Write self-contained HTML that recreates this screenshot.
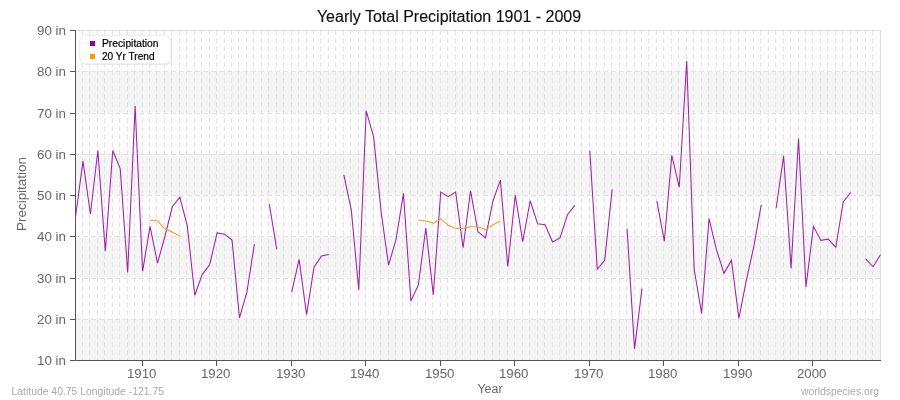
<!DOCTYPE html>
<html><head><meta charset="utf-8"><title>Yearly Total Precipitation</title>
<style>html,body{margin:0;padding:0;background:#fff;width:900px;height:400px;overflow:hidden;font-family:"Liberation Sans",sans-serif;}svg{display:block;will-change:transform}</style>
</head><body>
<svg width="900" height="400" viewBox="0 0 900 400">
<rect x="75" y="30.00" width="805" height="41.25" fill="#fcfcfc"/>
<rect x="75" y="71.25" width="805" height="41.25" fill="#f5f5f5"/>
<rect x="75" y="112.50" width="805" height="41.25" fill="#fcfcfc"/>
<rect x="75" y="153.75" width="805" height="41.25" fill="#f5f5f5"/>
<rect x="75" y="195.00" width="805" height="41.25" fill="#fcfcfc"/>
<rect x="75" y="236.25" width="805" height="41.25" fill="#f5f5f5"/>
<rect x="75" y="277.50" width="805" height="41.25" fill="#fcfcfc"/>
<rect x="75" y="318.75" width="805" height="41.25" fill="#f5f5f5"/>
<path d="M82.5 30 V360 M89.5 30 V360 M97.5 30 V360 M104.5 30 V360 M112.5 30 V360 M119.5 30 V360 M127.5 30 V360 M134.5 30 V360 M142.5 30 V360 M149.5 30 V360 M156.5 30 V360 M164.5 30 V360 M171.5 30 V360 M179.5 30 V360 M186.5 30 V360 M194.5 30 V360 M201.5 30 V360 M209.5 30 V360 M216.5 30 V360 M224.5 30 V360 M231.5 30 V360 M238.5 30 V360 M246.5 30 V360 M253.5 30 V360 M261.5 30 V360 M268.5 30 V360 M276.5 30 V360 M283.5 30 V360 M291.5 30 V360 M298.5 30 V360 M306.5 30 V360 M313.5 30 V360 M320.5 30 V360 M328.5 30 V360 M335.5 30 V360 M343.5 30 V360 M350.5 30 V360 M358.5 30 V360 M365.5 30 V360 M373.5 30 V360 M380.5 30 V360 M388.5 30 V360 M395.5 30 V360 M402.5 30 V360 M410.5 30 V360 M417.5 30 V360 M425.5 30 V360 M432.5 30 V360 M440.5 30 V360 M447.5 30 V360 M455.5 30 V360 M462.5 30 V360 M470.5 30 V360 M477.5 30 V360 M484.5 30 V360 M492.5 30 V360 M499.5 30 V360 M507.5 30 V360 M514.5 30 V360 M522.5 30 V360 M529.5 30 V360 M537.5 30 V360 M544.5 30 V360 M552.5 30 V360 M559.5 30 V360 M566.5 30 V360 M574.5 30 V360 M581.5 30 V360 M589.5 30 V360 M596.5 30 V360 M604.5 30 V360 M611.5 30 V360 M619.5 30 V360 M626.5 30 V360 M634.5 30 V360 M641.5 30 V360 M648.5 30 V360 M656.5 30 V360 M663.5 30 V360 M671.5 30 V360 M678.5 30 V360 M686.5 30 V360 M693.5 30 V360 M701.5 30 V360 M708.5 30 V360 M716.5 30 V360 M723.5 30 V360 M730.5 30 V360 M738.5 30 V360 M745.5 30 V360 M753.5 30 V360 M760.5 30 V360 M768.5 30 V360 M775.5 30 V360 M783.5 30 V360 M790.5 30 V360 M798.5 30 V360 M805.5 30 V360 M812.5 30 V360 M820.5 30 V360 M827.5 30 V360 M835.5 30 V360 M842.5 30 V360 M850.5 30 V360 M857.5 30 V360 M865.5 30 V360 M872.5 30 V360 M880.5 30 V360" stroke="#e3e3e3" stroke-width="1" stroke-dasharray="5 3" fill="none"/>
<path d="M75 319.5 H880 M75 278.5 H880 M75 236.5 H880 M75 195.5 H880 M75 154.5 H880 M75 113.5 H880 M75 71.5 H880" stroke="#e2e2e2" stroke-width="1" stroke-dasharray="5 3" fill="none"/>
<path d="M75 30.5 H880.5 V360" stroke="#dddddd" stroke-width="1" fill="none"/>
<path d="M75.5 30 V360.5 H881" stroke="#555" stroke-width="1" fill="none"/>
<path d="M70 360.5 H75" stroke="#555" stroke-width="1"/>
<text x="66" y="365.0" text-anchor="end" font-size="12" fill="#666" textLength="29" lengthAdjust="spacingAndGlyphs" font-family="Liberation Sans, sans-serif">10 in</text>
<path d="M70 319.5 H75" stroke="#555" stroke-width="1"/>
<text x="66" y="324.0" text-anchor="end" font-size="12" fill="#666" textLength="29" lengthAdjust="spacingAndGlyphs" font-family="Liberation Sans, sans-serif">20 in</text>
<path d="M70 278.5 H75" stroke="#555" stroke-width="1"/>
<text x="66" y="283.0" text-anchor="end" font-size="12" fill="#666" textLength="29" lengthAdjust="spacingAndGlyphs" font-family="Liberation Sans, sans-serif">30 in</text>
<path d="M70 236.5 H75" stroke="#555" stroke-width="1"/>
<text x="66" y="241.0" text-anchor="end" font-size="12" fill="#666" textLength="29" lengthAdjust="spacingAndGlyphs" font-family="Liberation Sans, sans-serif">40 in</text>
<path d="M70 195.5 H75" stroke="#555" stroke-width="1"/>
<text x="66" y="200.0" text-anchor="end" font-size="12" fill="#666" textLength="29" lengthAdjust="spacingAndGlyphs" font-family="Liberation Sans, sans-serif">50 in</text>
<path d="M70 154.5 H75" stroke="#555" stroke-width="1"/>
<text x="66" y="159.0" text-anchor="end" font-size="12" fill="#666" textLength="29" lengthAdjust="spacingAndGlyphs" font-family="Liberation Sans, sans-serif">60 in</text>
<path d="M70 113.5 H75" stroke="#555" stroke-width="1"/>
<text x="66" y="118.0" text-anchor="end" font-size="12" fill="#666" textLength="29" lengthAdjust="spacingAndGlyphs" font-family="Liberation Sans, sans-serif">70 in</text>
<path d="M70 71.5 H75" stroke="#555" stroke-width="1"/>
<text x="66" y="76.0" text-anchor="end" font-size="12" fill="#666" textLength="29" lengthAdjust="spacingAndGlyphs" font-family="Liberation Sans, sans-serif">80 in</text>
<path d="M70 30.5 H75" stroke="#555" stroke-width="1"/>
<text x="66" y="35.0" text-anchor="end" font-size="12" fill="#666" textLength="29" lengthAdjust="spacingAndGlyphs" font-family="Liberation Sans, sans-serif">90 in</text>
<path d="M142.5 360 V366" stroke="#555" stroke-width="1"/>
<text x="141.7" y="378" text-anchor="middle" font-size="12" fill="#666" textLength="29.5" lengthAdjust="spacingAndGlyphs" font-family="Liberation Sans, sans-serif">1910</text>
<path d="M216.5 360 V366" stroke="#555" stroke-width="1"/>
<text x="215.7" y="378" text-anchor="middle" font-size="12" fill="#666" textLength="29.5" lengthAdjust="spacingAndGlyphs" font-family="Liberation Sans, sans-serif">1920</text>
<path d="M291.5 360 V366" stroke="#555" stroke-width="1"/>
<text x="290.7" y="378" text-anchor="middle" font-size="12" fill="#666" textLength="29.5" lengthAdjust="spacingAndGlyphs" font-family="Liberation Sans, sans-serif">1930</text>
<path d="M365.5 360 V366" stroke="#555" stroke-width="1"/>
<text x="364.7" y="378" text-anchor="middle" font-size="12" fill="#666" textLength="29.5" lengthAdjust="spacingAndGlyphs" font-family="Liberation Sans, sans-serif">1940</text>
<path d="M440.5 360 V366" stroke="#555" stroke-width="1"/>
<text x="439.7" y="378" text-anchor="middle" font-size="12" fill="#666" textLength="29.5" lengthAdjust="spacingAndGlyphs" font-family="Liberation Sans, sans-serif">1950</text>
<path d="M514.5 360 V366" stroke="#555" stroke-width="1"/>
<text x="513.7" y="378" text-anchor="middle" font-size="12" fill="#666" textLength="29.5" lengthAdjust="spacingAndGlyphs" font-family="Liberation Sans, sans-serif">1960</text>
<path d="M589.5 360 V366" stroke="#555" stroke-width="1"/>
<text x="588.7" y="378" text-anchor="middle" font-size="12" fill="#666" textLength="29.5" lengthAdjust="spacingAndGlyphs" font-family="Liberation Sans, sans-serif">1970</text>
<path d="M663.5 360 V366" stroke="#555" stroke-width="1"/>
<text x="662.7" y="378" text-anchor="middle" font-size="12" fill="#666" textLength="29.5" lengthAdjust="spacingAndGlyphs" font-family="Liberation Sans, sans-serif">1980</text>
<path d="M738.5 360 V366" stroke="#555" stroke-width="1"/>
<text x="737.7" y="378" text-anchor="middle" font-size="12" fill="#666" textLength="29.5" lengthAdjust="spacingAndGlyphs" font-family="Liberation Sans, sans-serif">1990</text>
<path d="M812.5 360 V366" stroke="#555" stroke-width="1"/>
<text x="811.7" y="378" text-anchor="middle" font-size="12" fill="#666" textLength="29.5" lengthAdjust="spacingAndGlyphs" font-family="Liberation Sans, sans-serif">2000</text>
<path d="M75.50 217.28 L82.95 161.17 L90.41 213.97 L97.86 150.45 L105.31 251.10 L112.77 150.45 L120.22 168.60 L127.68 272.55 L135.13 105.90 L142.58 271.31 L150.04 226.35 L157.49 263.06 L164.94 236.25 L172.40 206.55 L179.85 197.06 L187.31 225.94 L194.76 295.24 L202.21 274.61 L209.67 264.71 L217.12 232.95 L224.57 234.19 L232.03 239.96 L239.48 317.93 L246.94 291.94 L254.39 244.09 M269.30 204.08 L276.75 249.04 M291.66 292.35 L299.11 259.35 L306.56 314.62 L314.02 267.19 L321.47 256.05 L328.93 254.40 M343.83 174.79 L351.29 209.85 L358.74 289.88 L366.19 110.85 L373.65 136.84 L381.10 211.91 L388.56 265.12 L396.01 239.55 L403.46 193.35 L410.92 301.01 L418.37 284.93 L425.82 228.00 L433.28 294.82 L440.73 192.11 L448.19 196.65 L455.64 192.11 L463.09 247.80 L470.55 190.88 L478.00 231.71 L485.45 237.90 L492.91 201.19 L500.36 180.15 L507.81 266.36 L515.27 195.00 L522.72 241.61 L530.18 200.78 L537.63 223.88 L545.08 224.70 L552.54 242.03 L559.99 237.90 L567.44 214.80 L574.90 205.31 M589.81 150.86 L597.26 269.25 L604.71 260.17 L612.17 189.22 M627.07 228.83 L634.53 348.86 L641.98 288.64 M656.89 201.19 L664.34 241.20 L671.80 155.40 L679.25 187.16 L686.70 60.94 L694.16 269.25 L701.61 313.39 L709.06 218.51 L716.52 249.86 L723.97 273.38 L731.43 260.17 L738.88 318.34 L746.33 280.39 L753.79 246.56 L761.24 204.90 M776.15 208.20 L783.60 155.81 L791.06 268.42 L798.51 138.49 L805.96 286.99 L813.42 226.35 L820.87 240.38 L828.32 239.14 L835.78 247.39 L843.23 202.01 L850.69 192.53 M865.59 258.94 L873.05 266.77 L880.50 254.81" stroke="#a020aa" stroke-width="1.05" fill="none" stroke-linejoin="miter"/>
<path d="M150.04 220.16 L157.49 220.78 L164.94 228.83 L172.40 232.12 L179.85 236.25 M418.37 220.16 L425.82 220.99 L433.28 223.05 L440.73 218.92 L448.19 225.32 L455.64 228.41 L463.09 228.41 L470.55 226.76 L478.00 226.76 L485.45 229.65 L492.91 224.70 L500.36 220.99" stroke="#f8a02a" stroke-width="1.15" fill="none"/>
<rect x="80.5" y="36.5" width="91" height="28" rx="6" fill="none" stroke="#e2e2e2" stroke-width="1" opacity="0.8"/>
<rect x="79.5" y="35.5" width="91" height="28" rx="6" fill="#fff" stroke="#efefef" stroke-width="1"/>
<rect x="90" y="41" width="5" height="5" fill="#990099"/>
<rect x="90" y="54" width="5" height="5" fill="#ff9900"/>
<text x="102" y="46.9" font-size="10" fill="#000" stroke="#000" stroke-width="0.2" textLength="56.5" lengthAdjust="spacingAndGlyphs" font-family="Liberation Sans, sans-serif">Precipitation</text>
<text x="102" y="59.9" font-size="10" fill="#000" stroke="#000" stroke-width="0.2" textLength="52.5" lengthAdjust="spacingAndGlyphs" font-family="Liberation Sans, sans-serif">20 Yr Trend</text>
<text x="449" y="21.7" text-anchor="middle" font-size="16" fill="#111" stroke="#111" stroke-width="0.15" font-family="Liberation Sans, sans-serif">Yearly Total Precipitation 1901 - 2009</text>
<text x="490" y="392.7" text-anchor="middle" font-size="12" fill="#666" textLength="25" lengthAdjust="spacingAndGlyphs" font-family="Liberation Sans, sans-serif">Year</text>
<text transform="translate(26 194) rotate(-90)" text-anchor="middle" font-size="12" fill="#666" textLength="74" lengthAdjust="spacingAndGlyphs" font-family="Liberation Sans, sans-serif">Precipitation</text>
<text x="11.5" y="394.6" font-size="11" fill="#aaa" textLength="152.5" lengthAdjust="spacingAndGlyphs" font-family="Liberation Sans, sans-serif">Latitude 40.75 Longitude -121.75</text>
<text x="879" y="395.3" text-anchor="end" font-size="11" fill="#aaa" textLength="78" lengthAdjust="spacingAndGlyphs" font-family="Liberation Sans, sans-serif">worldspecies.org</text>
</svg>
</body></html>
